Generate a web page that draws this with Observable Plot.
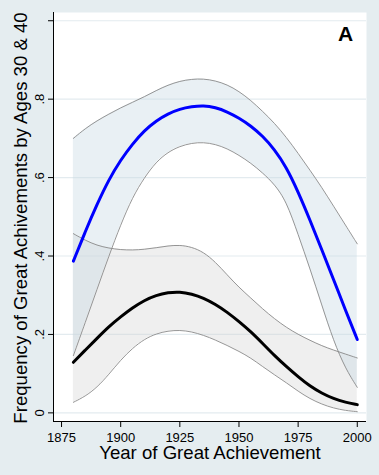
<!DOCTYPE html>
<html>
<head>
<meta charset="utf-8">
<script src="https://cdn.jsdelivr.net/npm/d3@7"></script>
<script src="https://cdn.jsdelivr.net/npm/@observablehq/plot@0.6"></script>
<style>
  html, body { margin: 0; padding: 0; background: #e5edf0; }
  #chart svg { display: block; }
</style>
</head>
<body>
<div id="chart"></div>
<script>
const years = [1880,1885,1890,1895,1900,1905,1910,1915,1920,1925,1930,1935,1940,1945,1950,1955,1960,1965,1970,1975,1980,1985,1990,1995,2000];
const age40Fit = [0.387,0.462,0.532,0.595,0.645,0.686,0.72,0.745,0.763,0.775,0.781,0.784,0.779,0.768,0.752,0.732,0.706,0.672,0.627,0.564,0.492,0.416,0.34,0.262,0.187];
const age40Hi  = [0.70,0.725,0.745,0.762,0.778,0.792,0.806,0.822,0.836,0.846,0.851,0.852,0.847,0.837,0.82,0.797,0.769,0.739,0.703,0.662,0.619,0.575,0.527,0.479,0.431];
const age40Lo  = [0.146,0.23,0.315,0.40,0.48,0.55,0.60,0.64,0.665,0.68,0.688,0.69,0.685,0.674,0.657,0.637,0.612,0.583,0.54,0.455,0.368,0.275,0.183,0.113,0.065];
const age30Fit = [0.129,0.16,0.19,0.22,0.245,0.268,0.287,0.300,0.307,0.309,0.303,0.293,0.277,0.257,0.233,0.207,0.177,0.146,0.118,0.092,0.068,0.05,0.036,0.027,0.021];
const age30Hi  = [0.457,0.44,0.427,0.42,0.416,0.415,0.417,0.421,0.426,0.428,0.423,0.41,0.385,0.352,0.32,0.293,0.265,0.24,0.218,0.2,0.185,0.171,0.16,0.15,0.14];
const age30Lo  = [0.027,0.042,0.065,0.098,0.135,0.165,0.188,0.202,0.209,0.211,0.207,0.198,0.186,0.172,0.157,0.14,0.118,0.097,0.077,0.055,0.036,0.022,0.012,0.006,0.003];
const xTicks = [1875,1900,1925,1950,1975,2000];
const yTicks = [0,0.2,0.4,0.6,0.8,1];
const yTickLabels = ["0",".2",".4",".6",".8",""];
const yTitle = "Frequency of Great Achivements by Ages 30 & 40";
const xTitle = "Year of Great Achievement";
const panel = "A";

const d40 = years.map((y,i) => ({year:y, fit:age40Fit[i], lo:age40Lo[i], hi:age40Hi[i]}));
const d30 = years.map((y,i) => ({year:y, fit:age30Fit[i], lo:age30Lo[i], hi:age30Hi[i]}));

const xDomain = [1871.6, 2003.9];
const yDomain = [-0.022, 1.021];
const font = "Liberation Sans, Arial, Helvetica, sans-serif";
const curve = "basis";

const chart = Plot.plot({
  width: 379,
  height: 475,
  marginLeft: 53,
  marginRight: 13,
  marginTop: 12,
  marginBottom: 54,
  style: {background: "#e5edf0", fontFamily: font, color: "#000"},
  x: {domain: xDomain},
  y: {domain: yDomain},
  marks: [
    Plot.frame({fill: "white", stroke: null}),
    Plot.gridY(yTicks, {stroke: "#e3ebef", strokeOpacity: 1, strokeWidth: 1.2}),
    Plot.areaY(d30, {x: "year", y1: "lo", y2: "hi", fill: "#d4d4d4", fillOpacity: 0.36, curve}),
    Plot.areaY(d40, {x: "year", y1: "lo", y2: "hi", fill: "#c9dae3", fillOpacity: 0.4, curve}),
    Plot.lineY(d30, {x: "year", y: "lo", stroke: "#8a8a8a", strokeWidth: 0.9, curve}),
    Plot.lineY(d30, {x: "year", y: "hi", stroke: "#8a8a8a", strokeWidth: 0.9, curve}),
    Plot.lineY(d40, {x: "year", y: "lo", stroke: "#8a8a8a", strokeWidth: 0.9, curve}),
    Plot.lineY(d40, {x: "year", y: "hi", stroke: "#8a8a8a", strokeWidth: 0.9, curve}),
    Plot.lineY(d30, {x: "year", y: "fit", stroke: "#000", strokeWidth: 3, curve}),
    Plot.lineY(d40, {x: "year", y: "fit", stroke: "#0000ff", strokeWidth: 3, curve}),
    Plot.ruleX([xDomain[0]], {stroke: "#000", strokeWidth: 1}),
    Plot.ruleY([yDomain[0]], {stroke: "#000", strokeWidth: 1}),
    Plot.axisX({ticks: xTicks, tickFormat: d => String(d), tickSize: 6, tickPadding: 5, fontSize: 13, label: null}),
    Plot.axisY({ticks: yTicks, tickFormat: d => yTickLabels[yTicks.indexOf(d)], tickSize: 5, tickRotate: -90, tickPadding: 5, fontSize: 13, label: null}),
    Plot.text([yTitle], {frameAnchor: "left", rotate: -90, dx: -32, dy: 1, textAnchor: "middle", lineAnchor: "middle", fontSize: 18.6, fill: "#000"}),
    Plot.text([xTitle], {frameAnchor: "bottom", dy: 32, textAnchor: "middle", lineAnchor: "middle", fontSize: 18.6, fill: "#000"}),
    Plot.text([panel], {frameAnchor: "top-right", dx: -21, dy: 22, textAnchor: "middle", lineAnchor: "middle", fontSize: 21, fontWeight: "bold", fill: "#000"})
  ]
});
document.getElementById("chart").appendChild(chart);
</script>
</body>
</html>
